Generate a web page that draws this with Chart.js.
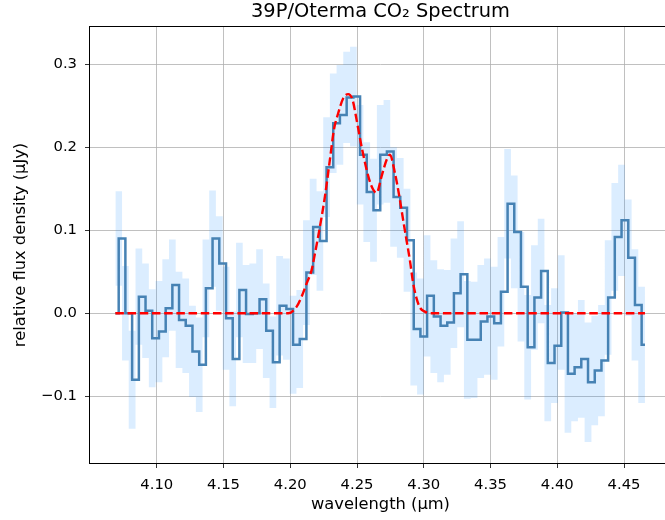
<!DOCTYPE html>
<html><head><meta charset="utf-8">
<script src="https://cdn.jsdelivr.net/npm/chart.js@4.4.1/dist/chart.umd.min.js"></script>
<style>html,body{margin:0;padding:0;overflow:hidden;background:#fff;width:665px;height:520px}canvas{display:block}</style>
</head><body>
<canvas id="c" width="675" height="520" style="width:675px;height:520px"></canvas>
<script>
const wavelength = [4.0690,4.0740,4.0790,4.0841,4.0891,4.0941,4.0991,4.1042,4.1092,4.1142,
  4.1192,4.1242,4.1293,4.1343,4.1393,4.1443,4.1494,4.1544,4.1594,4.1644,
  4.1694,4.1745,4.1795,4.1845,4.1895,4.1946,4.1996,4.2046,4.2096,4.2146,
  4.2197,4.2247,4.2297,4.2347,4.2397,4.2448,4.2498,4.2548,4.2598,4.2649,
  4.2699,4.2749,4.2799,4.2849,4.2900,4.2950,4.3000,4.3050,4.3101,4.3151,
  4.3201,4.3251,4.3301,4.3352,4.3402,4.3452,4.3502,4.3553,4.3603,4.3653,
  4.3703,4.3753,4.3804,4.3854,4.3904,4.3954,4.4005,4.4055,4.4105,4.4155,
  4.4205,4.4256,4.4306,4.4356,4.4406,4.4456,4.4507,4.4557,4.4607,4.4657];
const flux = [0.000,0.090,0.000,-0.080,0.020,0.003,-0.030,-0.022,0.006,0.034,
  -0.008,-0.015,-0.046,-0.062,0.030,0.090,0.060,-0.006,-0.055,0.028,
  -0.001,0.000,0.017,-0.021,-0.059,0.009,0.005,-0.038,-0.031,0.049,
  0.104,0.087,0.176,0.229,0.239,0.260,0.261,0.191,0.146,0.124,
  0.191,0.195,0.140,0.127,0.088,-0.019,-0.028,0.021,-0.004,-0.015,
  -0.011,0.024,0.047,-0.032,-0.032,-0.010,-0.004,-0.012,0.026,0.132,
  0.098,0.032,-0.041,0.019,0.051,-0.060,-0.039,0.001,-0.073,-0.065,
  -0.055,-0.083,-0.069,-0.057,0.019,0.092,0.112,0.067,0.010,-0.038];
const fluxErr = [0.058,0.057,0.057,0.059,0.058,0.057,0.059,0.061,0.059,0.055,
  0.058,0.057,0.055,0.057,0.059,0.058,0.057,0.062,0.057,0.057,
  0.059,0.060,0.060,0.057,0.055,0.060,0.061,0.059,0.059,0.063,
  0.058,0.060,0.060,0.060,0.060,0.055,0.060,0.060,0.060,0.062,
  0.060,0.062,0.060,0.060,0.062,0.068,0.070,0.073,0.068,0.068,
  0.063,0.066,0.064,0.071,0.070,0.068,0.070,0.068,0.066,0.066,
  0.068,0.066,0.063,0.063,0.063,0.070,0.069,0.069,0.071,0.065,
  0.071,0.072,0.066,0.067,0.069,0.065,0.067,0.070,0.067,0.070];
const modelWave = [4.0690,4.1985,4.2048,4.2085,4.2123,4.2160,4.2185,4.2222,4.2260,4.2297,
  4.2327,4.2359,4.2397,4.2434,4.2467,4.2497,4.2534,4.2572,4.2609,4.2647,
  4.2684,4.2722,4.2746,4.2784,4.2821,4.2846,4.2871,4.2896,4.2921,4.2946,
  4.2971,4.3008,4.3046,4.4657];
const modelFlux = [0.000,0.000,0.008,0.020,0.036,0.052,0.072,0.104,0.141,0.185,
  0.221,0.241,0.259,0.264,0.257,0.233,0.201,0.173,0.153,0.145,
  0.165,0.185,0.191,0.169,0.137,0.112,0.088,0.064,0.036,0.018,
  0.007,0.002,0.000,0.000];
const xTickValues = [4.10,4.15,4.20,4.25,4.30,4.35,4.40,4.45];
const yTickValues = [-0.1,0.0,0.1,0.2,0.3];
const titleText = '39P/Oterma CO\u2082 Spectrum';
const xLabel = 'wavelength (\u00b5m)';
const yLabel = 'relative flux density (\u03bcJy)';

const FONT = 'DejaVu Sans';
const pts = (xs, ys) => xs.map((x, i) => ({x: x, y: ys[i]}));
const upper = flux.map((v, i) => v + fluxErr[i]);
const lower = flux.map((v, i) => v - fluxErr[i]);

const frame = {
  id: 'frame',
  afterDatasetsDraw(chart) {
    const {ctx, chartArea: a} = chart;
    ctx.save();
    ctx.strokeStyle = '#000';
    ctx.lineWidth = 1;
    ctx.strokeRect(Math.round(a.left) - 0.5, Math.round(a.top) - 0.5,
      Math.round(a.right - a.left) + 1, Math.round(a.bottom - a.top) + 1);
    ctx.restore();
  }
};

new Chart(document.getElementById('c'), {
  type: 'line',
  data: {
    datasets: [
      {label: 'model', data: pts(modelWave, modelFlux), borderColor: '#ff0000', borderWidth: 2.4,
       borderDash: [8.5, 3.7], pointRadius: 0, fill: false, cubicInterpolationMode: 'monotone'},
      {label: 'flux', data: pts(wavelength, flux), borderColor: '#4682b4', borderWidth: 2.5,
       stepped: 'middle', pointRadius: 0, fill: false},
      {label: 'upper', data: pts(wavelength, upper), borderWidth: 0, borderColor: 'rgba(0,0,0,0)',
       stepped: 'after', pointRadius: 0, fill: '+1', backgroundColor: 'rgba(30,144,255,0.16)'},
      {label: 'lower', data: pts(wavelength, lower), borderWidth: 0, borderColor: 'rgba(0,0,0,0)',
       stepped: 'after', pointRadius: 0, fill: false}
    ]
  },
  options: {
    responsive: false, animation: false, devicePixelRatio: 1,
    layout: {padding: {left: 0, right: 4, top: 0, bottom: 0}},
    plugins: {
      legend: {display: false}, tooltip: {enabled: false},
      title: {display: true, fullSize: false, text: titleText, color: '#000',
              font: {family: FONT, size: 19.4, weight: 'normal'}, padding: {top: 0, bottom: 3.7}}
    },
    scales: {
      x: {
        type: 'linear', min: 4.0500, max: 4.4852,
        afterFit(s) { s.height = 57; },
        afterBuildTicks(s) { s.ticks = xTickValues.map(v => ({value: v})); },
        ticks: {autoSkip: false, maxRotation: 0, color: '#000', font: {family: FONT, size: 14.8},
                padding: 8, callback: v => Number(v).toFixed(2)},
        grid: {color: '#b0b0b0', lineWidth: 0.8, tickColor: '#000', tickLength: 5, tickWidth: 0.8},
        border: {display: false},
        title: {display: true, text: xLabel, color: '#000', font: {family: FONT, size: 16.3},
                padding: {top: 0, bottom: 5}}
      },
      y: {
        type: 'linear', min: -0.1804, max: 0.3449,
        afterFit(s) { s.width = 90; },
        afterBuildTicks(s) { s.ticks = yTickValues.map(v => ({value: v})); },
        ticks: {autoSkip: false, color: '#000', font: {family: FONT, size: 14.8}, padding: 8,
                callback: v => (v < -1e-9 ? '\u2212' : '') + Math.abs(Number(v)).toFixed(1)},
        grid: {color: '#b0b0b0', lineWidth: 0.8, tickColor: '#000', tickLength: 5, tickWidth: 0.8},
        border: {display: false},
        title: {display: true, text: yLabel, color: '#000', font: {family: FONT, size: 16.3},
                padding: {top: 11, bottom: 0}}
      }
    }
  },
  plugins: [frame]
});
</script>
</body></html>
